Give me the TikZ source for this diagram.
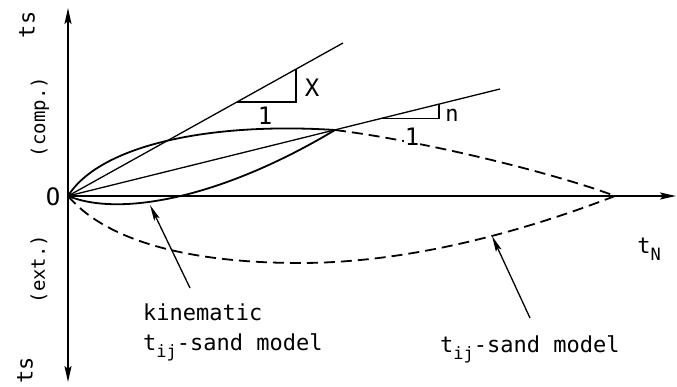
\documentclass[tikz,border=0pt]{standalone}
\usepackage{fontspec}
\newfontfamily\plotfont{DejaVu Sans Mono}
\usetikzlibrary{arrows.meta}
\newcommand\tijsub{\raisebox{-0.32em}{\fontsize{17}{17}\selectfont ij}}
\newcommand\fntbig{\plotfont\fontsize{22}{26}\selectfont}
\newcommand\fntaxis{\plotfont\fontsize{19}{22}\selectfont}
\newcommand\fntdigit{\plotfont\fontsize{24}{28}\selectfont}
\begin{document}
\begin{tikzpicture}[x=1pt,y=-1pt,
  axisline/.style={line width=1.8pt,-{Stealth[length=16pt,width=7pt,inset=3pt]}},
  thinline/.style={line width=1.3pt},
  solidcurve/.style={line width=1.8pt},
  dashcurve/.style={line width=1.8pt,dash pattern=on 11pt off 6pt},
  callout/.style={line width=1.3pt,-{Stealth[length=16pt,width=6pt,inset=3pt]}},
  lbl/.style={font=\fntbig,inner sep=0pt},
  axislbl/.style={font=\fntaxis,inner sep=0pt},
  digitlbl/.style={font=\fntdigit,inner sep=0pt},
  ]
\useasboundingbox (0,0) rectangle (677,387);
% key coordinates
\coordinate (O) at (68,196);
\coordinate (ytop) at (68,8);
\coordinate (ybot) at (68,382);
\coordinate (xend) at (676,196);
\coordinate (L1end) at (343,43);
\coordinate (L2end) at (500,89);
\coordinate (P) at (335,130);
\coordinate (Q) at (615,196);
\coordinate (M) at (300,263);
\coordinate (T1a) at (237,102);
\coordinate (T1b) at (296,102);
\coordinate (T1c) at (296,69.1);
\coordinate (T2a) at (380,118.7);
\coordinate (T2b) at (439,118.7);
\coordinate (T2c) at (439,104.1);
\coordinate (k1) at (150,205);
\coordinate (k0) at (190,288);
\coordinate (s1) at (492,236);
\coordinate (s0) at (530,318);
% axes
\draw[axisline] (O) -- (ytop);
\draw[axisline] (O) -- (ybot);
\draw[axisline] (O) -- (xend);
% straight lines and slope triangles
\draw[thinline] (O) -- (L1end);
\draw[thinline] (O) -- (L2end);
\draw[thinline] (T1a) -- (T1b) -- (T1c);
\draw[thinline] (T2a) -- (T2b) -- (T2c);
% solid curves (kinematic model)
\draw[solidcurve] (O) .. controls (100,145) and (210,122) .. (P);
\draw[solidcurve] (O) .. controls (122,218) and (225,196) .. (P);
% dashed curves (tij-sand model)
\draw[dashcurve] (P) .. controls (430,142) and (560,175) .. (Q);
\draw[dashcurve] (O) .. controls (110,245) and (200,263) .. (M)
                 .. controls (420,263) and (540,225) .. (Q);
% labels
\node[lbl,rotate=90] (tstop) at (27,25) {ts};
\node[axislbl,rotate=90] (comp) at (40,117) {(comp.)};
\node[axislbl,rotate=90] (ext) at (39,269) {(ext.)};
\node[lbl,rotate=90] (tsbot) at (25,370) {ts};
\node[digitlbl] (orig) at (53,197) {O};
\node[lbl] (tN) at (649,249) {t\raisebox{-0.3em}{\fontsize{17}{17}\selectfont N}};
\node[digitlbl] (X) at (312,88) {X};
\node[digitlbl] (one1) at (265,116) {1};
\node[lbl] (n) at (452,115) {n};
\node[digitlbl,fill=white,inner sep=1pt] (one2) at (412,137) {1};
\node[lbl,anchor=base west] (kin) at (143,320) {kinematic};
\node[lbl,anchor=base west] (kin2) at (143,350) {t\tijsub-sand model};
\node[lbl,anchor=base west] (sand) at (440,352) {t\tijsub-sand model};
% callout arrows
\draw[callout] (k0) -- (k1);
\draw[callout] (s0) -- (s1);
\end{tikzpicture}
\end{document}
